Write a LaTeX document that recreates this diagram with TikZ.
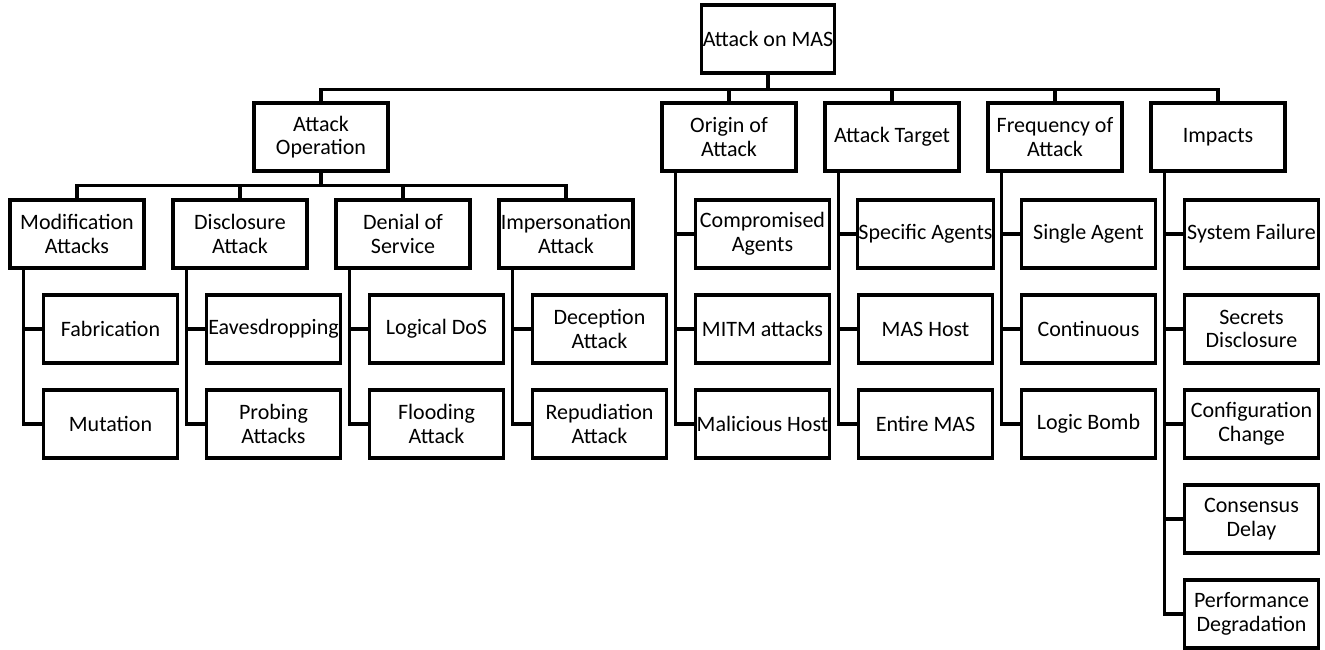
\documentclass[tikz,border=0pt]{standalone}
\usepackage{fontspec}
\setmainfont{Carlito}
\usepackage{tikz}
\usetikzlibrary{positioning}

\begin{document}
\begin{tikzpicture}[x=0.5pt, y=-0.5pt, bx/.style={draw, line width=1.6pt,
		minimum width=67pt, minimum height=34pt, inner sep=0.5pt, align=center,
		font=\fontsize{11}{11.8}\selectfont}, ln/.style={line width=1.6pt}]
	\useasboundingbox (0,0) rectangle (1325,649);
	\node [bx, minimum width=66.5pt] (root) at (768,39) {Attack on MAS};
	\node [bx] (op) at (321,137) {Attack\\Operation};
	\node [bx] (orig) at (729,137) {Origin of\\Attack};
	\node [bx] (targ) at (892,137) {Attack Target};
	\node [bx] (freq) at (1055,137) {Frequency of\\Attack};
	\node [bx] (imp) at (1218,137) {Impacts};
	\node [bx] (modi) at (77,234) {Modification\\Attacks};
	\node [bx] (disc) at (240,234) {Disclosure\\Attack};
	\node [bx] (dos) at (403,234) {Denial of\\Service};
	\node [bx] (imper) at (566,234) {Impersonation\\Attack};
	\node [bx] (fab) at (110.5,329) {Fabrication};
	\node [bx] (mut) at (110.5,424) {Mutation};
	\node [bx] (eav) at (273.5,329) {Eavesdropping};
	\node [bx] (prob) at (273.5,424) {Probing\\Attacks};
	\node [bx] (ldos) at (436.5,329) {Logical DoS};
	\node [bx] (flood) at (436.5,424) {Flooding\\Attack};
	\node [bx] (dec) at (599.5,329) {Deception\\Attack};
	\node [bx] (rep) at (599.5,424) {Repudiation\\Attack};
	\node [bx] (comp) at (762.5,234) {Compromised\\Agents};
	\node [bx] (mitm) at (762.5,329) {MITM attacks};
	\node [bx] (mhost) at (762.5,424) {Malicious Host};
	\node [bx] (spec) at (925.5,234) {Specific Agents};
	\node [bx] (host) at (925.5,329) {MAS Host};
	\node [bx] (ent) at (925.5,424) {Entire MAS};
	\node [bx] (sing) at (1088.5,234) {Single Agent};
	\node [bx] (cont) at (1088.5,329) {Continuous};
	\node [bx] (bomb) at (1088.5,424) {Logic Bomb};
	\node [bx] (fail) at (1251.5,234) {System Failure};
	\node [bx] (secr) at (1251.5,329) {Secrets\\Disclosure};
	\node [bx] (conf) at (1251.5,424) {Configuration\\Change};
	\node [bx] (cons) at (1251.5,519) {Consensus\\Delay};
	\node [bx] (perf) at (1251.5,614) {Performance\\Degradation};
	\draw [ln] (root.south) -- ++(0,15) -| (op.north);
	\draw [ln] (root.south) -- ++(0,15) -| (orig.north);
	\draw [ln] (root.south) -- ++(0,15) -| (targ.north);
	\draw [ln] (root.south) -- ++(0,15) -| (freq.north);
	\draw [ln] (root.south) -- ++(0,15) -| (imp.north);
	\draw [ln] (op.south) -- ++(0,13) -| (modi.north);
	\draw [ln] (op.south) -- ++(0,13) -| (disc.north);
	\draw [ln] (op.south) -- ++(0,13) -| (dos.north);
	\draw [ln] (op.south) -- ++(0,13) -| (imper.north);
	\draw [ln] ([xshift=7.5pt]modi.south west) |- (fab.west);
	\draw [ln] ([xshift=7.5pt]modi.south west) |- (mut.west);
	\draw [ln] ([xshift=7.5pt]disc.south west) |- (eav.west);
	\draw [ln] ([xshift=7.5pt]disc.south west) |- (prob.west);
	\draw [ln] ([xshift=7.5pt]dos.south west) |- (ldos.west);
	\draw [ln] ([xshift=7.5pt]dos.south west) |- (flood.west);
	\draw [ln] ([xshift=7.5pt]imper.south west) |- (dec.west);
	\draw [ln] ([xshift=7.5pt]imper.south west) |- (rep.west);
	\draw [ln] ([xshift=7.5pt]orig.south west) |- (comp.west);
	\draw [ln] ([xshift=7.5pt]orig.south west) |- (mitm.west);
	\draw [ln] ([xshift=7.5pt]orig.south west) |- (mhost.west);
	\draw [ln] ([xshift=7.5pt]targ.south west) |- (spec.west);
	\draw [ln] ([xshift=7.5pt]targ.south west) |- (host.west);
	\draw [ln] ([xshift=7.5pt]targ.south west) |- (ent.west);
	\draw [ln] ([xshift=7.5pt]freq.south west) |- (sing.west);
	\draw [ln] ([xshift=7.5pt]freq.south west) |- (cont.west);
	\draw [ln] ([xshift=7.5pt]freq.south west) |- (bomb.west);
	\draw [ln] ([xshift=7.5pt]imp.south west) |- (fail.west);
	\draw [ln] ([xshift=7.5pt]imp.south west) |- (secr.west);
	\draw [ln] ([xshift=7.5pt]imp.south west) |- (conf.west);
	\draw [ln] ([xshift=7.5pt]imp.south west) |- (cons.west);
	\draw [ln] ([xshift=7.5pt]imp.south west) |- (perf.west);
\end{tikzpicture}
\end{document}
